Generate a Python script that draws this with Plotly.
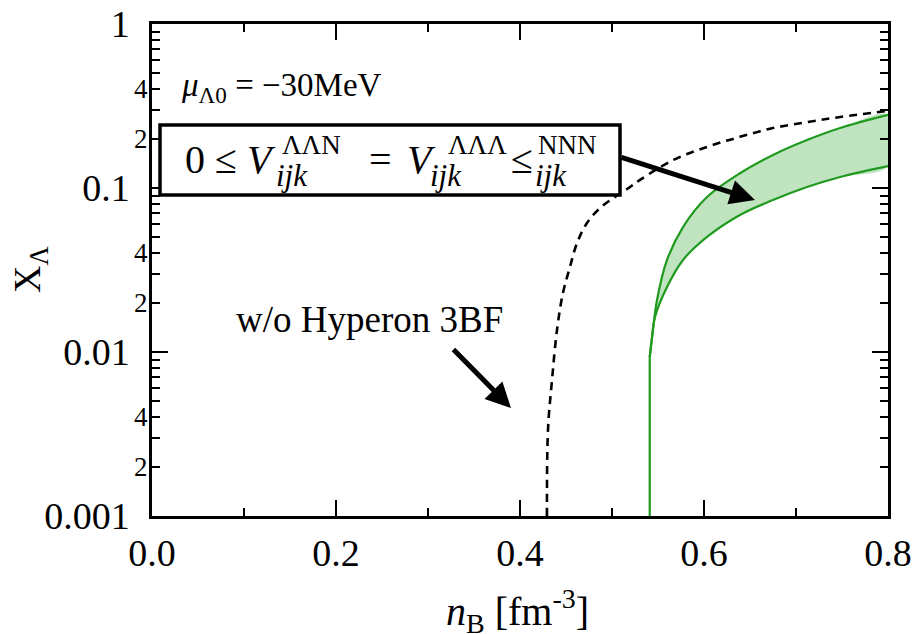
import math
import plotly.graph_objects as go

# Lambda fraction X_Lambda versus baryon density n_B
# Without hyperon three-body force (dashed curve)
nb_no3bf = [0.4293, 0.4304, 0.4348, 0.4402, 0.4467, 0.4543, 0.462, 0.4728, 0.487,
            0.503, 0.5196, 0.5304, 0.5663, 0.6033, 0.639, 0.675, 0.712, 0.748, 0.800]
x_no3bf = [0.001, 0.00334, 0.00675, 0.0136, 0.0229, 0.033, 0.0462, 0.0612, 0.0755,
           0.088, 0.1014, 0.112, 0.148, 0.178, 0.205, 0.232, 0.252, 0.271, 0.295]

# With hyperon 3BF: band between the two limiting choices of V_ijk
onset_nb = [0.541, 0.541]
onset_x = [0.001, 0.0093]

nb_upper = [0.541, 0.5442, 0.5489, 0.5598, 0.5772, 0.6033, 0.6391, 0.675, 0.712, 0.748, 0.800]
x_upper = [0.0093, 0.0131, 0.0207, 0.0364, 0.0578, 0.0881, 0.123, 0.159, 0.196, 0.232, 0.279]

nb_lower = [0.541, 0.5431, 0.5467, 0.5598, 0.5772, 0.6033, 0.6391, 0.675, 0.712, 0.748, 0.800]
x_lower = [0.0093, 0.0118, 0.0163, 0.0249, 0.0364, 0.0503, 0.0685, 0.0845, 0.1014, 0.1167, 0.136]

# Axis ticks
x_ticks = [0.0, 0.2, 0.4, 0.6, 0.8]
x_ticktext = ["0.0", "0.2", "0.4", "0.6", "0.8"]
y_ticks = [0.001, 0.01, 0.1, 1]
y_ticktext = ["0.001", "0.01", "0.1", "1"]
y_minor = [m * 10.0 ** e for e in (-3, -2, -1) for m in range(2, 10)]
y_minor_labels = [(0.4, "4"), (0.2, "2"), (0.04, "4"), (0.02, "2"), (0.004, "4"), (0.002, "2")]

GREEN = "#1f9a1f"
FILL = "rgba(150,210,150,0.6)"
SERIF = "Liberation Serif"

W, H = 914, 634
ML, MR, MT, MB = 152, 26, 24, 118


def px_x(p):
    return (p - ML) / (W - ML - MR)


def px_y(p):
    return (H - MB - p) / (H - MT - MB)


fig = go.Figure()

# shaded band
fig.add_trace(go.Scatter(
    x=nb_upper + nb_lower[::-1], y=x_upper + x_lower[::-1],
    fill="toself", fillcolor=FILL, line=dict(width=0, shape="spline", smoothing=1.0),
    mode="lines", hoverinfo="skip", showlegend=False))
fig.add_trace(go.Scatter(x=nb_upper, y=x_upper, mode="lines",
                         line=dict(color=GREEN, width=2.2, shape="spline", smoothing=1.0),
                         showlegend=False))
fig.add_trace(go.Scatter(x=nb_lower, y=x_lower, mode="lines",
                         line=dict(color=GREEN, width=2.2, shape="spline", smoothing=1.0),
                         showlegend=False))
fig.add_trace(go.Scatter(x=onset_nb, y=onset_x, mode="lines",
                         line=dict(color=GREEN, width=2.2), showlegend=False))
# no hyperon 3BF
fig.add_trace(go.Scatter(x=nb_no3bf, y=x_no3bf, mode="lines",
                         line=dict(color="black", width=2.6, dash="8px,6px",
                                   shape="spline", smoothing=1.0),
                         showlegend=False))

tickfont = dict(family=SERIF, size=38, color="black")
fig.update_xaxes(range=[0, 0.8], tickvals=x_ticks, ticktext=x_ticktext, automargin=False,
                 ticks="inside", ticklen=16, tickwidth=2, tickcolor="black",
                 minor=dict(dtick=0.1, tick0=0, ticks="inside", ticklen=8, tickwidth=2, tickcolor="black"),
                 showline=True, linewidth=2.5, linecolor="black", mirror="ticks",
                 showgrid=False, zeroline=False, tickfont=tickfont, ticklabelstandoff=2)
fig.update_yaxes(type="log", range=[-3, 0], tickvals=y_ticks, ticktext=y_ticktext, automargin=False,
                 ticks="inside", ticklen=16, tickwidth=2, tickcolor="black",
                 minor=dict(tickvals=y_minor, ticks="inside", ticklen=8, tickwidth=2, tickcolor="black"),
                 showline=True, linewidth=2.5, linecolor="black", mirror="ticks",
                 showgrid=False, zeroline=False, tickfont=tickfont, ticklabelstandoff=12)

ann = []
for v, t in y_minor_labels:
    ann.append(dict(x=0, xref="paper", y=math.log10(v), yref="y",
                    text=t, showarrow=False, xanchor="right", yanchor="middle", xshift=-2,
                    font=dict(family=SERIF, size=27, color="black")))

# axis titles
ann.append(dict(x=px_x(30), y=px_y(270), xref="paper", yref="paper", text="X<sub>Λ</sub>",
                textangle=-90, showarrow=False, xanchor="center", yanchor="middle",
                font=dict(family=SERIF, size=38, color="black")))
ann.append(dict(x=px_x(517), y=px_y(611), xref="paper", yref="paper",
                text="<i>n</i><sub>B</sub> [fm<sup>-3</sup>]",
                showarrow=False, xanchor="center", yanchor="middle",
                font=dict(family=SERIF, size=40, color="black")))

# chemical potential label
ann.append(dict(x=px_x(179), y=px_y(87), xref="paper", yref="paper",
                text="<i>μ</i><sub>Λ0</sub> = −30MeV", showarrow=False,
                xanchor="left", yanchor="middle",
                font=dict(family=SERIF, size=33, color="black")))

# boxed potential condition, built from pieces so scripts stack
big = dict(family=SERIF, size=40, color="black")
sup = dict(family=SERIF, size=27, color="black")
sub = dict(family=SERIF, size=31, color="black")
pieces = [
    ("0 ≤ <i>V</i>", 183, 160, big),
    ("ΛΛN", 280, 145, sup),
    ("<i>ijk</i>", 274, 175, sub),
    ("=", 367, 160, big),
    ("<i>V</i>", 405, 160, big),
    ("ΛΛΛ", 446, 145, sup),
    ("<i>ijk</i>", 428, 175, sub),
    ("≤", 509, 160, big),
    ("NNN", 536, 145, sup),
    ("<i>ijk</i>", 533, 175, sub),
]
for t, x, y, f in pieces:
    ann.append(dict(x=px_x(x), y=px_y(y), xref="paper", yref="paper", text=t,
                    showarrow=False, xanchor="left", yanchor="middle", font=f))

ann.append(dict(x=px_x(505), y=px_y(319), xref="paper", yref="paper",
                text="w/o Hyperon 3BF", showarrow=False, xanchor="right", yanchor="middle",
                font=dict(family=SERIF, size=37, color="black")))

# arrows
ann.append(dict(x=px_x(755), y=px_y(200), xref="paper", yref="paper", text="",
                ax=620 - 755, ay=157 - 200, showarrow=True, arrowhead=2, arrowsize=1.0,
                arrowwidth=5, arrowcolor="black"))
ann.append(dict(x=px_x(511), y=px_y(408), xref="paper", yref="paper", text="",
                ax=452 - 511, ay=348 - 408, showarrow=True, arrowhead=2, arrowsize=1.0,
                arrowwidth=5, arrowcolor="black"))

shapes = [dict(type="rect", xref="paper", yref="paper",
               x0=px_x(160), x1=px_x(620), y0=px_y(195), y1=px_y(125),
               line=dict(color="black", width=3.5), fillcolor="white", layer="above")]

fig.update_layout(width=W, height=H, margin=dict(l=ML, r=MR, t=MT, b=MB),
                  paper_bgcolor="white", plot_bgcolor="white",
                  annotations=ann, shapes=shapes, showlegend=False)

fig.write_html("out.html")
